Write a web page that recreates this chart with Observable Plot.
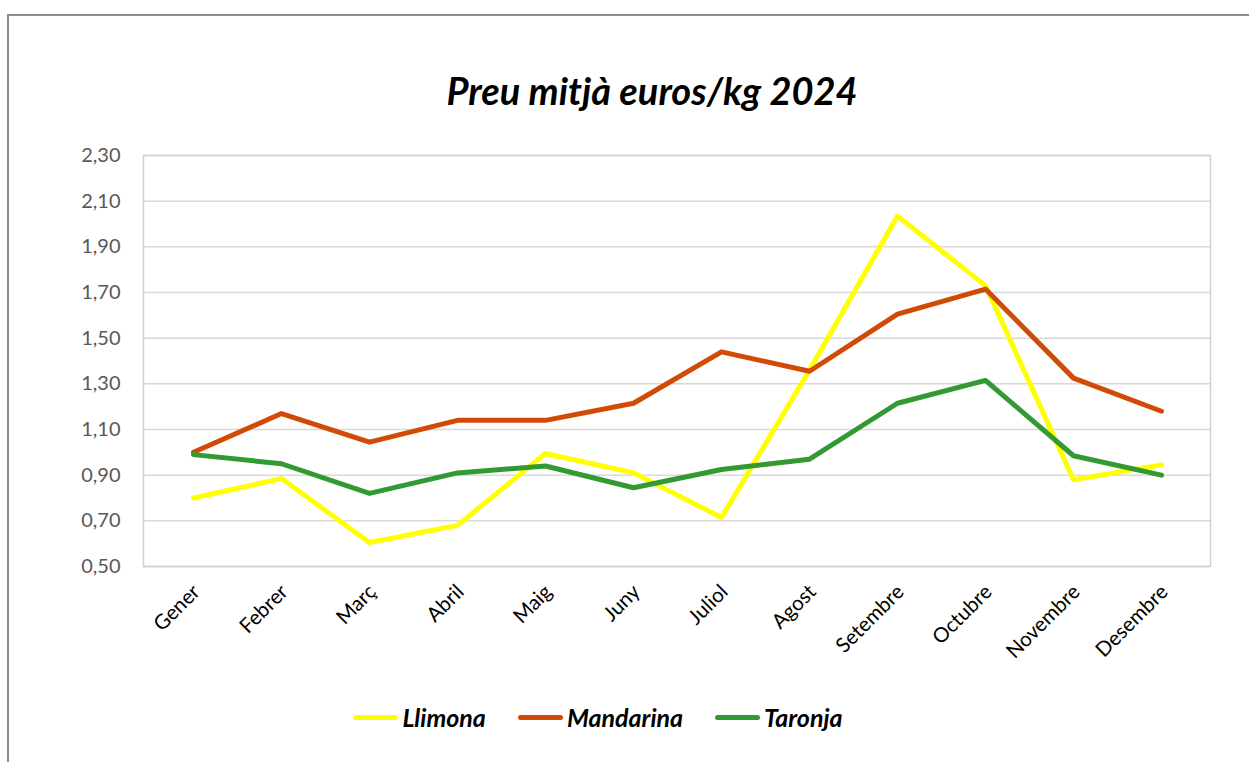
<!DOCTYPE html>
<html>
<head>
<meta charset="utf-8">
<script src="https://cdn.jsdelivr.net/npm/d3@7"></script>
<script src="https://cdn.jsdelivr.net/npm/@observablehq/plot@0.6"></script>
<style>
  html, body { margin: 0; padding: 0; background: #fff; overflow: hidden; }
  #wrap { position: relative; width: 1249px; height: 762px; overflow: hidden; font-family: Lato, "Noto Sans", sans-serif; }
  #border { position: absolute; left: 7px; top: 14px; width: 1400px; height: 900px; border-left: 2px solid #8c8c8c; border-top: 2px solid #8c8c8c; }
  #title { position: absolute; left: 0; width: 1304px; top: 67px; text-align: center; font-size: 38px; font-weight: bold; font-style: italic; color: #000; }
  #chart { position: absolute; left: 0; top: 130px; }
  #legend { position: absolute; top: 702px; left: 0; width: 1196px; display: flex; justify-content: center; gap: 32px; font-size: 25px; font-weight: bold; font-style: italic; color: #000; }
  .item { display: flex; align-items: center; gap: 4px; }
  .sw { width: 45px; height: 5px; border-radius: 3px; }
</style>
</head>
<body>
<div id="wrap">
  <div id="border"></div>
  <div id="title">Preu mitjà euros/kg 2024</div>
  <div id="chart"></div>
  <div id="legend"></div>
</div>
<script>
const months = ["Gener","Febrer","Març","Abril","Maig","Juny","Juliol","Agost","Setembre","Octubre","Novembre","Desembre"];
const series = ["Llimona","Mandarina","Taronja"];
const colors = ["#ffff00","#d24b06","#339933"];
const llimona   = [0.80, 0.885, 0.605, 0.68, 0.995, 0.91, 0.715, 1.36, 2.035, 1.73, 0.88, 0.945];
const mandarina = [1.00, 1.17, 1.045, 1.14, 1.14, 1.215, 1.44, 1.355, 1.605, 1.715, 1.325, 1.18];
const taronja   = [0.99, 0.95, 0.82, 0.91, 0.94, 0.845, 0.925, 0.97, 1.215, 1.315, 0.985, 0.90];
const yTicks = [0.5, 0.7, 0.9, 1.1, 1.3, 1.5, 1.7, 1.9, 2.1, 2.3];

const valuesBySeries = [llimona, mandarina, taronja];
const data = [];
series.forEach((s, i) => months.forEach((m, j) => data.push({serie: s, month: m, value: valuesBySeries[i][j]})));

const fmt = d => d3.format(".2f")(d).replace(".", ",");

const H = 550;
const plot = Plot.plot({
  width: 1249,
  height: H,
  marginTop: 25,
  marginLeft: 143,
  marginRight: 39,
  marginBottom: H - 436,
  style: {fontFamily: "Lato, 'Noto Sans', sans-serif", background: "transparent"},
  x: {type: "point", domain: months, padding: 0.5},
  y: {domain: [0.5, 2.3]},
  color: {domain: series, range: colors},
  marks: [
    Plot.ruleY(yTicks, {stroke: "#d9d9d9", strokeWidth: 1.5}),
    Plot.frame({stroke: "#d0d0d0", strokeWidth: 1.5}),
    Plot.axisY({ticks: yTicks, tickFormat: fmt, tickSize: 0, tickPadding: 23, fontSize: 20, color: "#595959", label: null}),
    Plot.axisX({tickRotate: -45, tickSize: 0, tickPadding: 22, fontSize: 20.5, color: "#000", label: null, dx: 3}),
    Plot.line(data, {x: "month", y: "value", z: "serie", stroke: "serie", strokeWidth: 5, strokeLinejoin: "round", strokeLinecap: "round"})
  ]
});
document.getElementById("chart").appendChild(plot);

const legend = document.getElementById("legend");
series.forEach((s, i) => {
  const it = document.createElement("div");
  it.className = "item";
  const sw = document.createElement("div");
  sw.className = "sw";
  sw.style.background = colors[i];
  const t = document.createElement("span");
  t.textContent = s;
  it.appendChild(sw); it.appendChild(t);
  legend.appendChild(it);
});
</script>
</body>
</html>
